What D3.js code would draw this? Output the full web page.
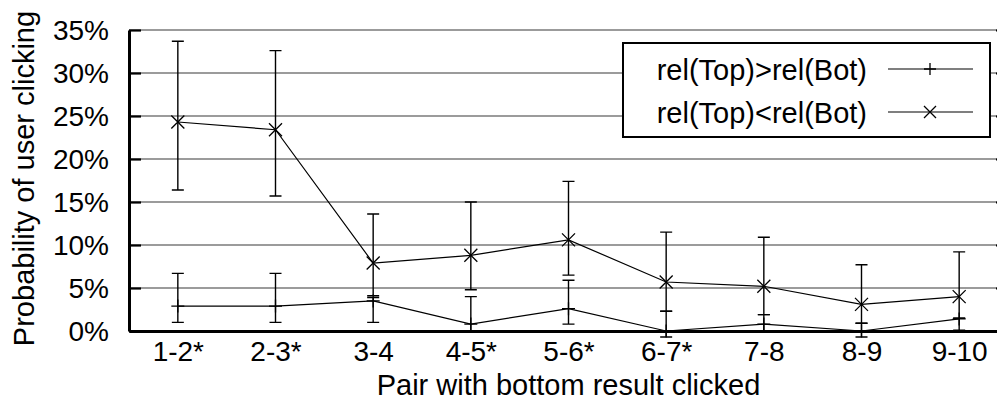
<!DOCTYPE html>
<html>
<head>
<meta charset="utf-8">
<script src="https://cdn.jsdelivr.net/npm/d3@7/dist/d3.min.js"></script>
<style>
  html, body { margin: 0; padding: 0; background: #fff; }
  svg { display: block; font-family: "Liberation Sans", Arial, Helvetica, sans-serif; }
</style>
</head>
<body>
<svg id="chart" width="997" height="401"></svg>
<script>
// Pairs of adjacent results where the bottom one was clicked
const categories = ["1-2*", "2-3*", "3-4", "4-5*", "5-6*", "6-7*", "7-8", "8-9", "9-10"];

// rel(Top)>rel(Bot): click probability (%) with confidence bounds
const topBetter     = [2.9, 2.9, 3.5, 0.8, 2.6, 0.0, 0.8, 0.0, 1.4];
const topBetterLow  = [1.0, 1.0, 1.0, 0.0, 0.8, -0.7, 0.0, -0.7, 0.1];
const topBetterHigh = [6.7, 6.7, 3.9, 4.0, 5.9, 2.3, 1.9, 0.9, 1.5];

// rel(Top)<rel(Bot): click probability (%) with confidence bounds
const bottomBetter     = [24.3, 23.4, 7.9, 8.8, 10.6, 5.7, 5.2, 3.1, 4.0];
const bottomBetterLow  = [16.4, 15.7, 4.1, 4.8, 6.5, 2.3, 1.9, 0.9, 1.5];
const bottomBetterHigh = [33.7, 32.6, 13.6, 15.0, 17.4, 11.5, 10.9, 7.7, 9.2];

const yTicks = [0, 5, 10, 15, 20, 25, 30, 35];
const seriesNames = ["rel(Top)>rel(Bot)", "rel(Top)<rel(Bot)"];

const svg = d3.select("#chart");
const plotLeft = 129, plotRight = 1008, plotTop = 30, plotBottom = 331;

const x = d3.scalePoint().domain(categories).range([plotLeft, plotRight]).padding(0.5);
const y = d3.scaleLinear().domain([0, 35]).range([plotBottom, plotTop]);

// horizontal grid
svg.append("g")
  .selectAll("line")
  .data(yTicks)
  .join("line")
  .attr("x1", plotLeft).attr("x2", plotRight)
  .attr("y1", d => y(d)).attr("y2", d => y(d))
  .attr("stroke", "#7a7a7a").attr("stroke-width", 1.6);

// y axis (ticks point inward)
const yAxis = svg.append("g")
  .attr("transform", `translate(${plotLeft},0)`)
  .call(d3.axisLeft(y).tickValues(yTicks).tickFormat(d => d + "%")
    .tickSize(-12).tickSizeOuter(0).tickPadding(20));
yAxis.select(".domain").attr("stroke", "#000").attr("stroke-width", 3);
yAxis.selectAll(".tick line").attr("stroke", "#000").attr("stroke-width", 2.2);
yAxis.selectAll(".tick text")
  .attr("font-size", 28).attr("fill", "#000")
  .attr("font-family", "'Liberation Sans', Arial, sans-serif")
  .attr("dy", "0.35em");

// mirrored ticks on the right edge
const yAxisR = svg.append("g")
  .attr("transform", `translate(${plotRight},0)`)
  .call(d3.axisRight(y).tickValues(yTicks).tickFormat("")
    .tickSize(-12).tickSizeOuter(0));
yAxisR.select(".domain").attr("stroke", "#000").attr("stroke-width", 3);
yAxisR.selectAll(".tick line").attr("stroke", "#000").attr("stroke-width", 2.2);

// x axis
const xAxis = svg.append("g")
  .attr("transform", `translate(0,${plotBottom})`)
  .call(d3.axisBottom(x).tickSize(0).tickSizeOuter(0).tickPadding(30));
xAxis.select(".domain").attr("stroke", "#000").attr("stroke-width", 3);
xAxis.selectAll(".tick text")
  .attr("font-size", 28).attr("fill", "#000")
  .attr("font-family", "'Liberation Sans', Arial, sans-serif")
  .attr("dy", "0");

// axis titles
svg.append("text")
  .attr("x", (plotLeft + plotRight) / 2).attr("y", 395)
  .attr("text-anchor", "middle").attr("font-size", 29)
  .text("Pair with bottom result clicked");
svg.append("text")
  .attr("transform", `translate(34,${(plotTop + plotBottom) / 2 - 2}) rotate(-90)`)
  .attr("text-anchor", "middle").attr("font-size", 29)
  .text("Probability of user clicking");

// point symbols
function plus(g, cx, cy, r) {
  g.append("path").attr("d", `M${cx - r},${cy}H${cx + r}M${cx},${cy - r}V${cy + r}`)
    .attr("stroke", "#000").attr("stroke-width", 1.3).attr("fill", "none");
}
function cross(g, cx, cy, r) {
  g.append("path").attr("d", `M${cx - r},${cy - r}L${cx + r},${cy + r}M${cx - r},${cy + r}L${cx + r},${cy - r}`)
    .attr("stroke", "#000").attr("stroke-width", 1.3).attr("fill", "none");
}

const series = [
  { vals: topBetter, lo: topBetterLow, hi: topBetterHigh, sym: plus },
  { vals: bottomBetter, lo: bottomBetterLow, hi: bottomBetterHigh, sym: cross }
];

const line = d3.line().x((d, i) => x(categories[i])).y(d => y(d));
const cap = 6;

series.forEach(s => {
  const g = svg.append("g");
  // error bars with caps
  categories.forEach((c, i) => {
    const cx = x(c), y0 = y(s.lo[i]), y1 = y(s.hi[i]);
    g.append("path")
      .attr("d", `M${cx},${y0}V${y1}M${cx - cap},${y0}H${cx + cap}M${cx - cap},${y1}H${cx + cap}`)
      .attr("stroke", "#000").attr("stroke-width", 1.4).attr("fill", "none");
  });
  g.append("path").datum(s.vals).attr("d", line)
    .attr("stroke", "#000").attr("stroke-width", 1.2).attr("fill", "none");
  categories.forEach((c, i) => s.sym(g, x(c), y(s.vals[i]), 6.5));
});

// legend
const lg = svg.append("g");
lg.append("rect")
  .attr("x", 623).attr("y", 43).attr("width", 367).attr("height", 94)
  .attr("fill", "#fff").attr("stroke", "#000").attr("stroke-width", 2);
seriesNames.forEach((name, i) => {
  const by = 80 + i * 43;
  lg.append("text")
    .attr("x", 867).attr("y", by).attr("text-anchor", "end")
    .attr("font-size", 29).text(name);
  const ly = by - 11;
  lg.append("line").attr("x1", 888).attr("x2", 973).attr("y1", ly).attr("y2", ly)
    .attr("stroke", "#000").attr("stroke-width", 1.2);
  series[i].sym(lg, 930, ly, 6);
});
</script>
</body>
</html>
